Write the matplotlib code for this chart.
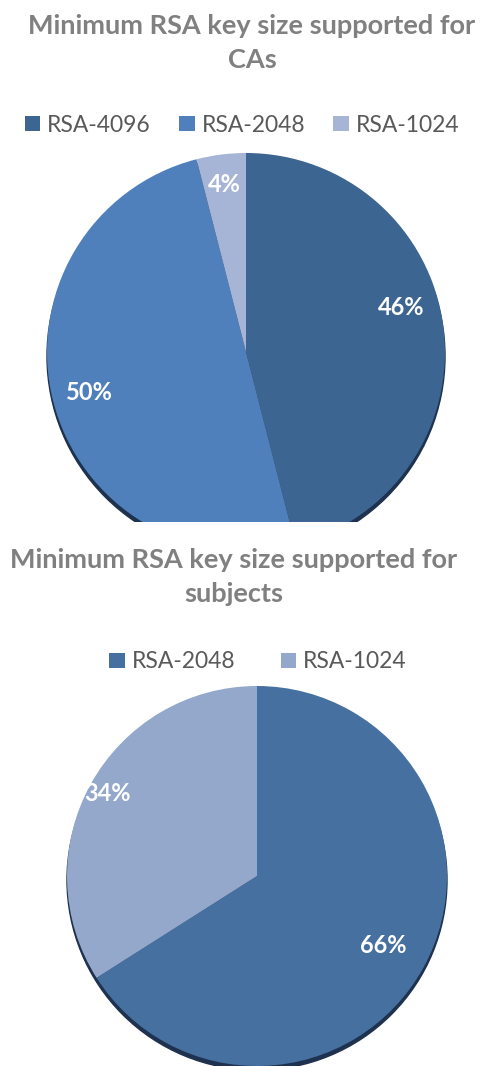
import numpy as np
import matplotlib
matplotlib.use("Agg")
import matplotlib.pyplot as plt
from matplotlib.patches import Circle

# Data
ca_labels = ["RSA-4096", "RSA-2048", "RSA-1024"]
ca_values = [46, 50, 4]
ca_colors = ["#3D6591", "#4F80BC", "#A6B4D6"]

subj_labels = ["RSA-2048", "RSA-1024"]
subj_values = [66, 34]
subj_colors = ["#45709F", "#94A8CB"]

title_ca = "Minimum RSA key size supported for\nCAs"
title_subj = "Minimum RSA key size supported for\nsubjects"

W, H = 481, 1066
fig = plt.figure(figsize=(W / 100, H / 100), dpi=100)
fig.patch.set_facecolor("white")

TITLE_FONT = dict(family="Lato", weight="bold", size=19.5, color="#808080")


def pie_axes(cx, cy, r, top, bottom):
    """Axes in pixel layout with 1 data unit = r pixels, pie centred at (cx, cy)."""
    ax = fig.add_axes([0, 1 - bottom / H, 1, (bottom - top) / H])
    return ax


def set_limits(ax, cx, cy, r, top, bottom):
    ax.set_xlim(-cx / r, (W - cx) / r)
    ax.set_ylim(-(bottom - cy) / r, (cy - top) / r)
    ax.axis("off")


def draw_pie(ax, values, colors, dists, nudges):
    shadow = Circle((0, -0.022), 1.0, color="#1E324F", zorder=0)
    ax.add_patch(shadow)
    wedges, _ = ax.pie(values, colors=colors, startangle=90, counterclock=False,
                       radius=1.0, center=(0, 0), frame=True,
                       wedgeprops=dict(linewidth=0, zorder=1))
    shadow.set_clip_on(True)
    for w in wedges:
        w.set_clip_on(True)
    total = float(sum(values))
    start = 90.0
    for v, d, nd in zip(values, dists, nudges):
        span = 360.0 * v / total
        mid = np.deg2rad(start - span / 2 + nd)
        ax.text(d * np.cos(mid), d * np.sin(mid), f"{v}%", ha="center", va="center",
                color="white", fontsize=17, fontweight="bold", family="Lato", zorder=3)
        start -= span
    return wedges


def add_legend(handles, labels, x, y, colspace):
    leg = fig.legend(handles, labels, loc="center", bbox_to_anchor=(x, y), ncol=len(labels),
                     frameon=False, handlelength=0.68, handleheight=0.68, handletextpad=0.3,
                     columnspacing=colspace, prop=dict(family="Lato", size=16.5))
    for t in leg.get_texts():
        t.set_color("#595959")
    return leg


# Top chart: CAs
geo1 = (246, 352, 199, 140, 522)
ax1 = pie_axes(*geo1)
w1 = draw_pie(ax1, ca_values, ca_colors, [0.81, 0.81, 0.85], [9, 0, 0])
set_limits(ax1, *geo1)

fig.text(252 / W, 1 - 43 / H, title_ca, ha="center", va="center", linespacing=1.45, **TITLE_FONT)
add_legend(w1, ca_labels, 242 / W, 1 - 125 / H, 1.22)

# Bottom chart: subjects
geo2 = (257, 876, 190, 675, 1066)
ax2 = pie_axes(*geo2)
w2 = draw_pie(ax2, subj_values, subj_colors, [0.76, 0.9], [0, 0])
set_limits(ax2, *geo2)

fig.text(234 / W, 1 - 577 / H, title_subj, ha="center", va="center", linespacing=1.45, **TITLE_FONT)
add_legend(w2, subj_labels, 258 / W, 1 - 662 / H, 2.0)

fig.savefig("out.png", dpi=100, facecolor="white")
